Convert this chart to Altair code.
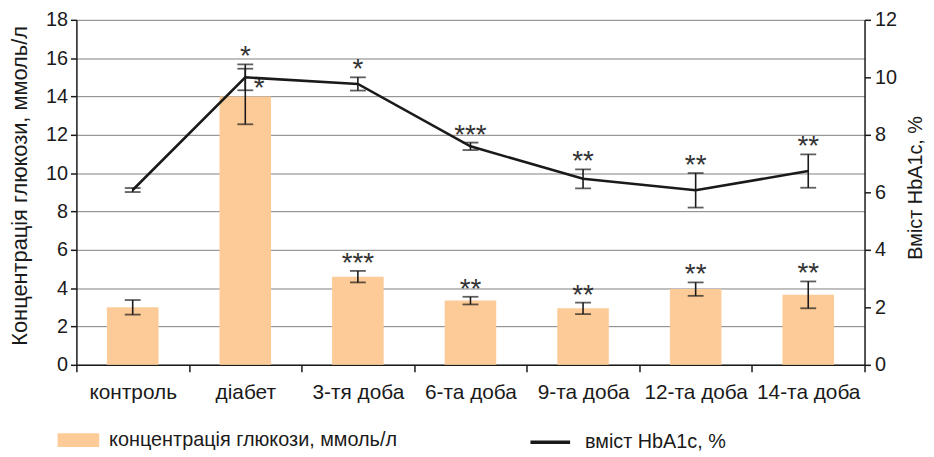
import altair as alt
import pandas as pd

categories = ["контроль", "діабет", "3-тя доба", "6-та доба", "9-та доба", "12-та доба", "14-та доба"]
glucose = [3.0, 14.0, 4.6, 3.35, 2.95, 3.95, 3.65]
glucose_err = [0.38, 1.45, 0.3, 0.2, 0.3, 0.35, 0.7]
glucose_sig = ["", "*", "***", "**", "**", "**", "**"]
hba1c = [6.08, 10.0, 9.77, 7.6, 6.47, 6.07, 6.74]
hba1c_err = [0.07, 0.45, 0.23, 0.13, 0.33, 0.6, 0.58]
hba1c_sig = ["", "*", "*", "***", "**", "**", "**"]
left_ticks = list(range(0, 19, 2))
right_ticks = list(range(0, 13, 2))
series_names = ["концентрація глюкози, ммоль/л", "вміст HbA1c, %"]

FONT = "Liberation Sans"
BAR = "#FDCB97"
INK = "#1a1a1a"

df = pd.DataFrame({
    "cat": categories,
    "g": glucose,
    "g_lo": [v - e for v, e in zip(glucose, glucose_err)],
    "g_hi": [v + e for v, e in zip(glucose, glucose_err)],
    "g_sig": glucose_sig,
    "h": hba1c,
    "h_lo": [v - e for v, e in zip(hba1c, hba1c_err)],
    "h_hi": [v + e for v, e in zip(hba1c, hba1c_err)],
    "h_sig": hba1c_sig,
    "s1": series_names[0],
    "s2": series_names[1],
})

x = alt.X("cat:N", sort=categories,
          scale=alt.Scale(paddingInner=0, paddingOuter=0),
          axis=alt.Axis(title=None, labelAngle=0, tickBand="extent", tickSize=7,
                        labelFontSize=21, labelPadding=10, grid=False))

yl_scale = alt.Scale(domain=[0, 18], nice=False)
yr_scale = alt.Scale(domain=[0, 12], nice=False)

yl_axis = alt.Axis(values=left_ticks, title="Концентрація глюкози, ммоль/л",
                   titleFontSize=22, titleFontWeight="normal", titleAngle=270,
                   titleX=-50, titleY=167, titleAlign="center",
                   titleBaseline="alphabetic", labelFontSize=20, tickSize=6,
                   labelPadding=3, labelOverlap=False, grid=True,
                   gridColor="#808080", gridWidth=1)
yr_axis = alt.Axis(orient="right", values=right_ticks, title="Вміст HbA1c, %",
                   titleFontSize=20, titleFontWeight="normal", titleAngle=270,
                   titleX=57, titleY=169, titleAlign="center",
                   titleBaseline="alphabetic", labelFontSize=20, tickSize=6,
                   labelPadding=4, labelOverlap=False, grid=False)


def yl(field):
    return alt.Y(field, scale=yl_scale, axis=yl_axis)


def yr(field):
    return alt.Y(field, scale=yr_scale, axis=yr_axis)


base = alt.Chart(df)

bars = base.mark_bar(size=52, color=BAR).encode(
    x=x,
    y=yl("g:Q"),
    color=alt.Color("s1:N", scale=alt.Scale(domain=[series_names[0]], range=[BAR]),
                    legend=alt.Legend(orient="none", legendX=-19, legendY=403, title=None,
                                      symbolType="M-1,-0.33 L1,-0.33 L1,0.33 L-1,0.33 Z",
                                      symbolSize=1764, symbolStrokeWidth=0,
                                      labelFontSize=20, labelFont=FONT, labelOffset=10,
                                      labelLimit=0, labelColor=INK, padding=0)),
)

g_rule = base.mark_rule(color=INK, strokeWidth=1.6).encode(
    x=x, y=yl("g_lo:Q"), y2="g_hi:Q")
g_cap_lo = base.mark_tick(color=INK, size=16, thickness=1.8).encode(x=x, y=yl("g_lo:Q"))
g_cap_hi = base.mark_tick(color=INK, size=16, thickness=1.8).encode(x=x, y=yl("g_hi:Q"))
g_text = base.transform_filter(alt.datum.cat != "діабет").mark_text(
    font=FONT, fontSize=28, baseline="alphabetic", dy=1, color="#333").encode(
    x=x, y=yl("g_hi:Q"), text="g_sig:N")
g_text_d = base.transform_filter(alt.datum.cat == "діабет").mark_text(
    font=FONT, fontSize=28, baseline="alphabetic", dx=14, dy=29, color="#333").encode(
    x=x, y=yl("g_hi:Q"), text="g_sig:N")

left = alt.layer(bars, g_rule, g_cap_lo, g_cap_hi, g_text, g_text_d)

line = base.mark_line(strokeWidth=2.6).encode(
    x=x,
    y=yr("h:Q"),
    color=alt.Color("s2:N", scale=alt.Scale(domain=[series_names[1]], range=[INK]),
                    legend=alt.Legend(orient="none", legendX=456, legendY=404, title=None,
                                      symbolType="stroke", symbolSize=1600,
                                      symbolStrokeWidth=3.5,
                                      labelFontSize=20, labelFont=FONT, labelOffset=13,
                                      labelLimit=0, labelColor=INK, padding=0)),
)
h_rule = base.mark_rule(color=INK, strokeWidth=1.6).encode(
    x=x, y=yr("h_lo:Q"), y2="h_hi:Q")
h_cap_lo = base.mark_tick(color=INK, size=16, thickness=1.8).encode(x=x, y=yr("h_lo:Q"))
h_cap_hi = base.mark_tick(color=INK, size=16, thickness=1.8).encode(x=x, y=yr("h_hi:Q"))
h_text = base.mark_text(font=FONT, fontSize=28, baseline="alphabetic", dy=1,
                        color="#333").encode(
    x=x, y=yr("h_hi:Q"), text="h_sig:N")

right = alt.layer(line, h_rule, h_cap_lo, h_cap_hi, h_text)

chart = alt.layer(left, right).resolve_scale(y="independent", color="independent").properties(
    width=795, height=348,
    autosize=alt.AutoSizeParams(type="none"),
    padding={"left": 69, "top": 10, "right": 62, "bottom": 86},
).configure_view(stroke=None).configure_axis(
    labelFont=FONT, titleFont=FONT, labelColor=INK, titleColor=INK,
    domainColor=INK, tickColor=INK, domainWidth=1.5, tickWidth=1.5,
).configure_text(font=FONT)

chart.save("out.html", embed_options={"renderer": "svg", "actions": False})
